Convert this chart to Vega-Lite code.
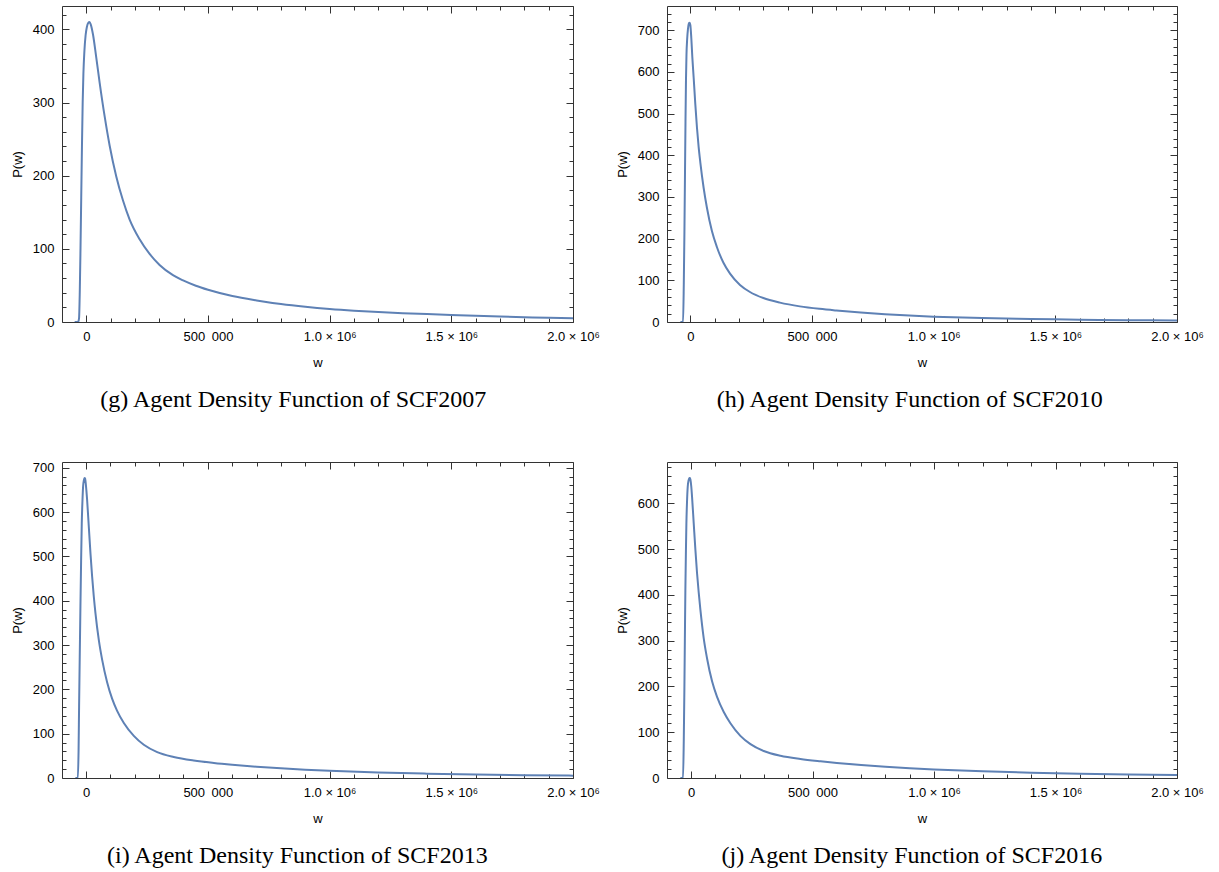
{
"$schema": "https://vega.github.io/schema/vega-lite/v6.json",
"background": "white",
"padding": {"left": 10, "top": 5, "right": 5, "bottom": 5},
"datasets": {
"g": [{"w":-48000,"p":0},{"w":-34000,"p":0},{"w":-30000,"p":5},{"w":-27000,"p":40},{"w":-24000,"p":100},{"w":-21000,"p":170},{"w":-18000,"p":240},{"w":-15000,"p":300},{"w":-12000,"p":340},{"w":-8000,"p":370},{"w":-3000,"p":392},{"w":2000,"p":403},{"w":8000,"p":409},{"w":13000,"p":410},{"w":18000,"p":407},{"w":27400,"p":393},{"w":41000,"p":361},{"w":54800,"p":327},{"w":75300,"p":281},{"w":95900,"p":241},{"w":123000,"p":199},{"w":150700,"p":166},{"w":178000,"p":140},{"w":219000,"p":113},{"w":260000,"p":93},{"w":301000,"p":78},{"w":356000,"p":64},{"w":400000,"p":56.5},{"w":450000,"p":49.5},{"w":500000,"p":44},{"w":600000,"p":35.5},{"w":700000,"p":29.5},{"w":800000,"p":24.5},{"w":900000,"p":20.7},{"w":1000000,"p":17.7},{"w":1100000,"p":15.4},{"w":1200000,"p":13.6},{"w":1300000,"p":12.1},{"w":1400000,"p":10.8},{"w":1500000,"p":9.6},{"w":1600000,"p":8.5},{"w":1700000,"p":7.5},{"w":1800000,"p":6.6},{"w":1900000,"p":5.8},{"w":2000000,"p":5.2}],
"h": [{"w":-41000,"p":0},{"w":-30000,"p":0},{"w":-27000,"p":90},{"w":-24500,"p":210},{"w":-22000,"p":360},{"w":-20000,"p":480},{"w":-18000,"p":580},{"w":-16000,"p":640},{"w":-13000,"p":680},{"w":-10000,"p":702},{"w":-6000,"p":716},{"w":-3000,"p":718},{"w":0,"p":712},{"w":4000,"p":680},{"w":8000,"p":636},{"w":13600,"p":586},{"w":20400,"p":522},{"w":27200,"p":466},{"w":34000,"p":420},{"w":40900,"p":383},{"w":54500,"p":322},{"w":68100,"p":274},{"w":88600,"p":218},{"w":109000,"p":180},{"w":136000,"p":142},{"w":163000,"p":116},{"w":204000,"p":89},{"w":245000,"p":72},{"w":300000,"p":57.5},{"w":368000,"p":46.5},{"w":450000,"p":37.5},{"w":531000,"p":31.5},{"w":600000,"p":27.5},{"w":700000,"p":22.5},{"w":800000,"p":18.5},{"w":900000,"p":15.3},{"w":1000000,"p":12.8},{"w":1200000,"p":9.3},{"w":1400000,"p":7.1},{"w":1600000,"p":5.6},{"w":1800000,"p":4.4},{"w":2000000,"p":3.4}],
"i": [{"w":-44000,"p":0},{"w":-34000,"p":0},{"w":-31000,"p":60},{"w":-28800,"p":162},{"w":-26000,"p":280},{"w":-23300,"p":387},{"w":-20500,"p":490},{"w":-17800,"p":575},{"w":-15000,"p":625},{"w":-12300,"p":658},{"w":-9000,"p":672},{"w":-6800,"p":677},{"w":-4500,"p":676},{"w":-2700,"p":671},{"w":1000,"p":650},{"w":4100,"p":628},{"w":11000,"p":568},{"w":17800,"p":508},{"w":24700,"p":455},{"w":31500,"p":410},{"w":38400,"p":372},{"w":52000,"p":312},{"w":65800,"p":267},{"w":86300,"p":216},{"w":106800,"p":179},{"w":127000,"p":152},{"w":155000,"p":124},{"w":196000,"p":95},{"w":237000,"p":75},{"w":292000,"p":58.5},{"w":360000,"p":47.5},{"w":442000,"p":39.5},{"w":525000,"p":34},{"w":600000,"p":30},{"w":700000,"p":25.5},{"w":800000,"p":21.8},{"w":900000,"p":18.8},{"w":1000000,"p":16.3},{"w":1200000,"p":12.5},{"w":1400000,"p":9.8},{"w":1600000,"p":7.9},{"w":1800000,"p":6.4},{"w":2000000,"p":5.3}],
"j": [{"w":-44000,"p":0},{"w":-33000,"p":0},{"w":-30000,"p":80},{"w":-27500,"p":192},{"w":-25500,"p":300},{"w":-23400,"p":410},{"w":-21000,"p":500},{"w":-19200,"p":556},{"w":-16500,"p":605},{"w":-13700,"p":636},{"w":-10000,"p":650},{"w":-6900,"p":655},{"w":-4500,"p":655},{"w":-2700,"p":652},{"w":1000,"p":636},{"w":4100,"p":614},{"w":11000,"p":556},{"w":17900,"p":498},{"w":24700,"p":447},{"w":31500,"p":405},{"w":38500,"p":367},{"w":52200,"p":305},{"w":65900,"p":261},{"w":86500,"p":211},{"w":107000,"p":177},{"w":134600,"p":144},{"w":162000,"p":119.5},{"w":203000,"p":92},{"w":244500,"p":74},{"w":299000,"p":59},{"w":368000,"p":48.5},{"w":450000,"p":41.5},{"w":533000,"p":36.5},{"w":600000,"p":33},{"w":700000,"p":28.5},{"w":800000,"p":24.5},{"w":900000,"p":21.3},{"w":1000000,"p":18.7},{"w":1200000,"p":14.6},{"w":1400000,"p":11.6},{"w":1600000,"p":9.4},{"w":1800000,"p":7.6},{"w":2000000,"p":6.3}]
},
"spacing": 456,
"bounds": "flush",
"vconcat": [
{"hconcat": [
{"width": 511, "height": 316, "data": {"name": "g"}, "title": {"text": "(g) Agent Density Function of SCF2007", "dx": -12},
 "layer": [
  {"mark": {"type": "line", "color": "#5E81B5", "strokeWidth": 2, "clip": true, "interpolate": "monotone"},
   "encoding": {
    "x": {"field": "w", "type": "quantitative", "scale": {"domain": [-100000, 2000000], "nice": false, "zero": false},
      "axis": {"orient": "bottom", "title": "w", "values": [0,500000,1000000,1500000,2000000], "ticks": false, "domain": false, "labelExpr": "datum.value == 0 ? '0' : datum.value == 500000 ? '500\u2002000' : format(datum.value / 1000000, '.1f') + ' × 10⁶'"}},
    "y": {"field": "p", "type": "quantitative", "scale": {"domain": [0, 432], "nice": false, "zero": false},
      "axis": {"orient": "left", "title": "P(w)", "values": [0,100,200,300,400], "ticks": false, "domain": false}}}},
  {"mark": {"type": "line", "strokeOpacity": 0},
   "encoding": {
    "x": {"field": "w", "type": "quantitative", "axis": {"orient": "bottom", "title": null, "labels": false, "domain": false, "values": [0,500000,1000000,1500000,2000000], "tickSize": -7}},
    "y": {"field": "p", "type": "quantitative", "axis": {"orient": "left", "title": null, "labels": false, "domain": false, "values": [0,100,200,300,400], "tickSize": -7}}}},
  {"mark": {"type": "line", "strokeOpacity": 0},
   "encoding": {
    "x": {"field": "w", "type": "quantitative", "axis": {"orient": "bottom", "title": null, "labels": false, "domain": false, "values": [100000,200000,300000,400000,600000,700000,800000,900000,1100000,1200000,1300000,1400000,1600000,1700000,1800000,1900000], "tickSize": -4}},
    "y": {"field": "p", "type": "quantitative", "axis": {"orient": "left", "title": null, "labels": false, "domain": false, "values": [20,40,60,80,120,140,160,180,220,240,260,280,320,340,360,380,420], "tickSize": -4}}}},
  {"mark": {"type": "line", "strokeOpacity": 0},
   "encoding": {
    "x": {"field": "w", "type": "quantitative", "axis": {"orient": "top", "title": null, "labels": false, "domain": false, "values": [0,500000,1000000,1500000,2000000], "tickSize": -7}},
    "y": {"field": "p", "type": "quantitative", "axis": {"orient": "right", "title": null, "labels": false, "domain": false, "values": [0,100,200,300,400], "tickSize": -7}}}},
  {"mark": {"type": "line", "strokeOpacity": 0},
   "encoding": {
    "x": {"field": "w", "type": "quantitative", "axis": {"orient": "top", "title": null, "labels": false, "domain": false, "values": [100000,200000,300000,400000,600000,700000,800000,900000,1100000,1200000,1300000,1400000,1600000,1700000,1800000,1900000], "tickSize": -4}},
    "y": {"field": "p", "type": "quantitative", "axis": {"orient": "right", "title": null, "labels": false, "domain": false, "values": [20,40,60,80,120,140,160,180,220,240,260,280,320,340,360,380,420], "tickSize": -4}}}}
 ],
 "resolve": {"axis": {"x": "independent", "y": "independent"}}},
{"width": 510, "height": 316, "data": {"name": "h"}, "title": {"text": "(h) Agent Density Function of SCF2010", "dx": 0},
 "layer": [
  {"mark": {"type": "line", "color": "#5E81B5", "strokeWidth": 2, "clip": true, "interpolate": "monotone"},
   "encoding": {
    "x": {"field": "w", "type": "quantitative", "scale": {"domain": [-96000, 2000000], "nice": false, "zero": false},
      "axis": {"orient": "bottom", "title": "w", "values": [0,500000,1000000,1500000,2000000], "ticks": false, "domain": false, "labelExpr": "datum.value == 0 ? '0' : datum.value == 500000 ? '500\u2002000' : format(datum.value / 1000000, '.1f') + ' × 10⁶'"}},
    "y": {"field": "p", "type": "quantitative", "scale": {"domain": [0, 758], "nice": false, "zero": false},
      "axis": {"orient": "left", "title": "P(w)", "values": [0,100,200,300,400,500,600,700], "ticks": false, "domain": false}}}},
  {"mark": {"type": "line", "strokeOpacity": 0},
   "encoding": {
    "x": {"field": "w", "type": "quantitative", "axis": {"orient": "bottom", "title": null, "labels": false, "domain": false, "values": [0,500000,1000000,1500000,2000000], "tickSize": -7}},
    "y": {"field": "p", "type": "quantitative", "axis": {"orient": "left", "title": null, "labels": false, "domain": false, "values": [0,100,200,300,400,500,600,700], "tickSize": -7}}}},
  {"mark": {"type": "line", "strokeOpacity": 0},
   "encoding": {
    "x": {"field": "w", "type": "quantitative", "axis": {"orient": "bottom", "title": null, "labels": false, "domain": false, "values": [100000,200000,300000,400000,600000,700000,800000,900000,1100000,1200000,1300000,1400000,1600000,1700000,1800000,1900000], "tickSize": -4}},
    "y": {"field": "p", "type": "quantitative", "axis": {"orient": "left", "title": null, "labels": false, "domain": false, "values": [20,40,60,80,120,140,160,180,220,240,260,280,320,340,360,380,420,440,460,480,520,540,560,580,620,640,660,680,720,740], "tickSize": -4}}}},
  {"mark": {"type": "line", "strokeOpacity": 0},
   "encoding": {
    "x": {"field": "w", "type": "quantitative", "axis": {"orient": "top", "title": null, "labels": false, "domain": false, "values": [0,500000,1000000,1500000,2000000], "tickSize": -7}},
    "y": {"field": "p", "type": "quantitative", "axis": {"orient": "right", "title": null, "labels": false, "domain": false, "values": [0,100,200,300,400,500,600,700], "tickSize": -7}}}},
  {"mark": {"type": "line", "strokeOpacity": 0},
   "encoding": {
    "x": {"field": "w", "type": "quantitative", "axis": {"orient": "top", "title": null, "labels": false, "domain": false, "values": [100000,200000,300000,400000,600000,700000,800000,900000,1100000,1200000,1300000,1400000,1600000,1700000,1800000,1900000], "tickSize": -4}},
    "y": {"field": "p", "type": "quantitative", "axis": {"orient": "right", "title": null, "labels": false, "domain": false, "values": [20,40,60,80,120,140,160,180,220,240,260,280,320,340,360,380,420,440,460,480,520,540,560,580,620,640,660,680,720,740], "tickSize": -4}}}}
 ],
 "resolve": {"axis": {"x": "independent", "y": "independent"}}}
], "spacing": 94, "bounds": "flush"},
{"hconcat": [
{"width": 511, "height": 316, "data": {"name": "i"}, "title": {"text": "(i) Agent Density Function of SCF2013", "dx": -8},
 "layer": [
  {"mark": {"type": "line", "color": "#5E81B5", "strokeWidth": 2, "clip": true, "interpolate": "monotone"},
   "encoding": {
    "x": {"field": "w", "type": "quantitative", "scale": {"domain": [-99000, 2000000], "nice": false, "zero": false},
      "axis": {"orient": "bottom", "title": "w", "values": [0,500000,1000000,1500000,2000000], "ticks": false, "domain": false, "labelExpr": "datum.value == 0 ? '0' : datum.value == 500000 ? '500\u2002000' : format(datum.value / 1000000, '.1f') + ' × 10⁶'"}},
    "y": {"field": "p", "type": "quantitative", "scale": {"domain": [0, 713], "nice": false, "zero": false},
      "axis": {"orient": "left", "title": "P(w)", "values": [0,100,200,300,400,500,600,700], "ticks": false, "domain": false}}}},
  {"mark": {"type": "line", "strokeOpacity": 0},
   "encoding": {
    "x": {"field": "w", "type": "quantitative", "axis": {"orient": "bottom", "title": null, "labels": false, "domain": false, "values": [0,500000,1000000,1500000,2000000], "tickSize": -7}},
    "y": {"field": "p", "type": "quantitative", "axis": {"orient": "left", "title": null, "labels": false, "domain": false, "values": [0,100,200,300,400,500,600,700], "tickSize": -7}}}},
  {"mark": {"type": "line", "strokeOpacity": 0},
   "encoding": {
    "x": {"field": "w", "type": "quantitative", "axis": {"orient": "bottom", "title": null, "labels": false, "domain": false, "values": [100000,200000,300000,400000,600000,700000,800000,900000,1100000,1200000,1300000,1400000,1600000,1700000,1800000,1900000], "tickSize": -4}},
    "y": {"field": "p", "type": "quantitative", "axis": {"orient": "left", "title": null, "labels": false, "domain": false, "values": [20,40,60,80,120,140,160,180,220,240,260,280,320,340,360,380,420,440,460,480,520,540,560,580,620,640,660,680], "tickSize": -4}}}},
  {"mark": {"type": "line", "strokeOpacity": 0},
   "encoding": {
    "x": {"field": "w", "type": "quantitative", "axis": {"orient": "top", "title": null, "labels": false, "domain": false, "values": [0,500000,1000000,1500000,2000000], "tickSize": -7}},
    "y": {"field": "p", "type": "quantitative", "axis": {"orient": "right", "title": null, "labels": false, "domain": false, "values": [0,100,200,300,400,500,600,700], "tickSize": -7}}}},
  {"mark": {"type": "line", "strokeOpacity": 0},
   "encoding": {
    "x": {"field": "w", "type": "quantitative", "axis": {"orient": "top", "title": null, "labels": false, "domain": false, "values": [100000,200000,300000,400000,600000,700000,800000,900000,1100000,1200000,1300000,1400000,1600000,1700000,1800000,1900000], "tickSize": -4}},
    "y": {"field": "p", "type": "quantitative", "axis": {"orient": "right", "title": null, "labels": false, "domain": false, "values": [20,40,60,80,120,140,160,180,220,240,260,280,320,340,360,380,420,440,460,480,520,540,560,580,620,640,660,680], "tickSize": -4}}}}
 ],
 "resolve": {"axis": {"x": "independent", "y": "independent"}}},
{"width": 510, "height": 316, "data": {"name": "j"}, "title": {"text": "(j) Agent Density Function of SCF2016", "dx": 2},
 "layer": [
  {"mark": {"type": "line", "color": "#5E81B5", "strokeWidth": 2, "clip": true, "interpolate": "monotone"},
   "encoding": {
    "x": {"field": "w", "type": "quantitative", "scale": {"domain": [-99000, 2000000], "nice": false, "zero": false},
      "axis": {"orient": "bottom", "title": "w", "values": [0,500000,1000000,1500000,2000000], "ticks": false, "domain": false, "labelExpr": "datum.value == 0 ? '0' : datum.value == 500000 ? '500\u2002000' : format(datum.value / 1000000, '.1f') + ' × 10⁶'"}},
    "y": {"field": "p", "type": "quantitative", "scale": {"domain": [0, 690], "nice": false, "zero": false},
      "axis": {"orient": "left", "title": "P(w)", "values": [0,100,200,300,400,500,600], "ticks": false, "domain": false}}}},
  {"mark": {"type": "line", "strokeOpacity": 0},
   "encoding": {
    "x": {"field": "w", "type": "quantitative", "axis": {"orient": "bottom", "title": null, "labels": false, "domain": false, "values": [0,500000,1000000,1500000,2000000], "tickSize": -7}},
    "y": {"field": "p", "type": "quantitative", "axis": {"orient": "left", "title": null, "labels": false, "domain": false, "values": [0,100,200,300,400,500,600], "tickSize": -7}}}},
  {"mark": {"type": "line", "strokeOpacity": 0},
   "encoding": {
    "x": {"field": "w", "type": "quantitative", "axis": {"orient": "bottom", "title": null, "labels": false, "domain": false, "values": [100000,200000,300000,400000,600000,700000,800000,900000,1100000,1200000,1300000,1400000,1600000,1700000,1800000,1900000], "tickSize": -4}},
    "y": {"field": "p", "type": "quantitative", "axis": {"orient": "left", "title": null, "labels": false, "domain": false, "values": [20,40,60,80,120,140,160,180,220,240,260,280,320,340,360,380,420,440,460,480,520,540,560,580,620,640,660,680], "tickSize": -4}}}},
  {"mark": {"type": "line", "strokeOpacity": 0},
   "encoding": {
    "x": {"field": "w", "type": "quantitative", "axis": {"orient": "top", "title": null, "labels": false, "domain": false, "values": [0,500000,1000000,1500000,2000000], "tickSize": -7}},
    "y": {"field": "p", "type": "quantitative", "axis": {"orient": "right", "title": null, "labels": false, "domain": false, "values": [0,100,200,300,400,500,600], "tickSize": -7}}}},
  {"mark": {"type": "line", "strokeOpacity": 0},
   "encoding": {
    "x": {"field": "w", "type": "quantitative", "axis": {"orient": "top", "title": null, "labels": false, "domain": false, "values": [100000,200000,300000,400000,600000,700000,800000,900000,1100000,1200000,1300000,1400000,1600000,1700000,1800000,1900000], "tickSize": -4}},
    "y": {"field": "p", "type": "quantitative", "axis": {"orient": "right", "title": null, "labels": false, "domain": false, "values": [20,40,60,80,120,140,160,180,220,240,260,280,320,340,360,380,420,440,460,480,520,540,560,580,620,640,660,680], "tickSize": -4}}}}
 ],
 "resolve": {"axis": {"x": "independent", "y": "independent"}}}
], "spacing": 94, "bounds": "flush"}
],
"config": {
 "view": {"stroke": "#333", "strokeWidth": 1},
 "axis": {"grid": false, "labelFont": "Liberation Sans", "labelFontSize": 13, "labelColor": "#000", "titleFont": "Liberation Sans", "titleFontSize": 13, "titleFontWeight": "normal", "titleColor": "#000", "tickColor": "#333", "tickWidth": 1, "labelFlush": false, "labelOverlap": false, "labelPadding": 8, "titlePadding": 8},
 "axisBottom": {"titlePadding": 13},
 "title": {"orient": "bottom", "font": "Liberation Serif", "fontSize": 24, "fontWeight": "normal", "color": "#000", "offset": 19, "anchor": "middle", "frame": "bounds"}
}
}
